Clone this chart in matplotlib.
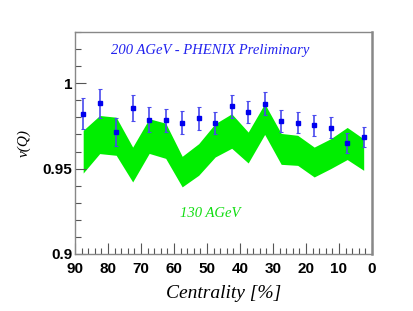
import matplotlib.pyplot as plt
from matplotlib.ticker import MultipleLocator, FixedLocator

# centrality bin centres (%)
centrality = [87.5, 82.5, 77.5, 72.5, 67.5, 62.5, 57.5, 52.5, 47.5,
              42.5, 37.5, 32.5, 27.5, 22.5, 17.5, 12.5, 7.5, 2.5]

# 200 AGeV PHENIX preliminary points
v200 = [0.9821, 0.9883, 0.9714, 0.9856, 0.9786, 0.9784, 0.9770, 0.9794, 0.9766,
        0.9864, 0.9831, 0.9881, 0.9778, 0.9769, 0.9753, 0.9739, 0.9650, 0.9685]
err200 = [0.0090, 0.0085, 0.0080, 0.0075, 0.0073, 0.0068, 0.0067, 0.0066, 0.0065,
          0.0065, 0.0064, 0.0065, 0.0063, 0.0063, 0.0061, 0.0061, 0.0060, 0.0060]

# 130 AGeV band
band_hi = [0.9724, 0.9811, 0.9801, 0.9626, 0.9792, 0.9766, 0.9572, 0.9646, 0.9763,
           0.9821, 0.9714, 0.9880, 0.9706, 0.9695, 0.9626, 0.9675, 0.9741, 0.9674]
band_lo = [0.9474, 0.9588, 0.9578, 0.9422, 0.9589, 0.9560, 0.9393, 0.9461, 0.9568,
           0.9619, 0.9533, 0.9700, 0.9525, 0.9519, 0.9451, 0.9500, 0.9553, 0.9490]

fig = plt.figure(figsize=(4.14, 3.11), dpi=100)
ax = fig.add_axes([0.181, 0.1833, 0.7174, 0.7138])

ax.fill_between(centrality, band_lo, band_hi, color='#00ee00', lw=0)
ax.errorbar(centrality, v200, yerr=err200, fmt='s', ms=2.8, color='#0000ee',
            ecolor='#4a4aee', elinewidth=1.2, capsize=1.5, capthick=0.8)

ax.set_xlim(90, 0)
ax.set_ylim(0.9, 1.03)

ax.xaxis.set_major_locator(MultipleLocator(10))
ax.xaxis.set_minor_locator(MultipleLocator(2))
ax.yaxis.set_major_locator(FixedLocator([0.9, 0.95, 1.0]))
ax.yaxis.set_minor_locator(MultipleLocator(0.01))
ax.set_yticklabels(['0.9', '0.95', '1'])

ax.tick_params(which='both', direction='in', top=False, right=False,
               color='#555555', width=0.8)
ax.tick_params(which='major', length=8)
ax.tick_params(which='minor', length=4)
ax.tick_params(axis='x', pad=6)
ax.tick_params(axis='y', pad=2)
for lab in ax.get_xticklabels() + ax.get_yticklabels():
    lab.set_fontfamily('Liberation Sans')
    lab.set_fontweight('bold')
    lab.set_fontsize(11)

for s in ax.spines.values():
    s.set_color('#888888')
    s.set_linewidth(1)
ax.spines['right'].set_linewidth(1.8)

ax.set_xlabel('Centrality [%]', family='Liberation Serif', style='italic',
              fontsize=14, labelpad=6)
ax.set_ylabel('v(Q)', family='Liberation Serif', style='italic',
              fontsize=11, labelpad=8)

ax.text(49, 1.019, '200 AGeV - PHENIX Preliminary', color='#2222ee',
        family='Liberation Serif', style='italic', fontsize=10.5, ha='center', va='center')
ax.text(49, 0.924, '130 AGeV', color='#11dd11',
        family='Liberation Serif', style='italic', fontsize=10.5, ha='center', va='center')

fig.savefig('out.png', dpi=100)
